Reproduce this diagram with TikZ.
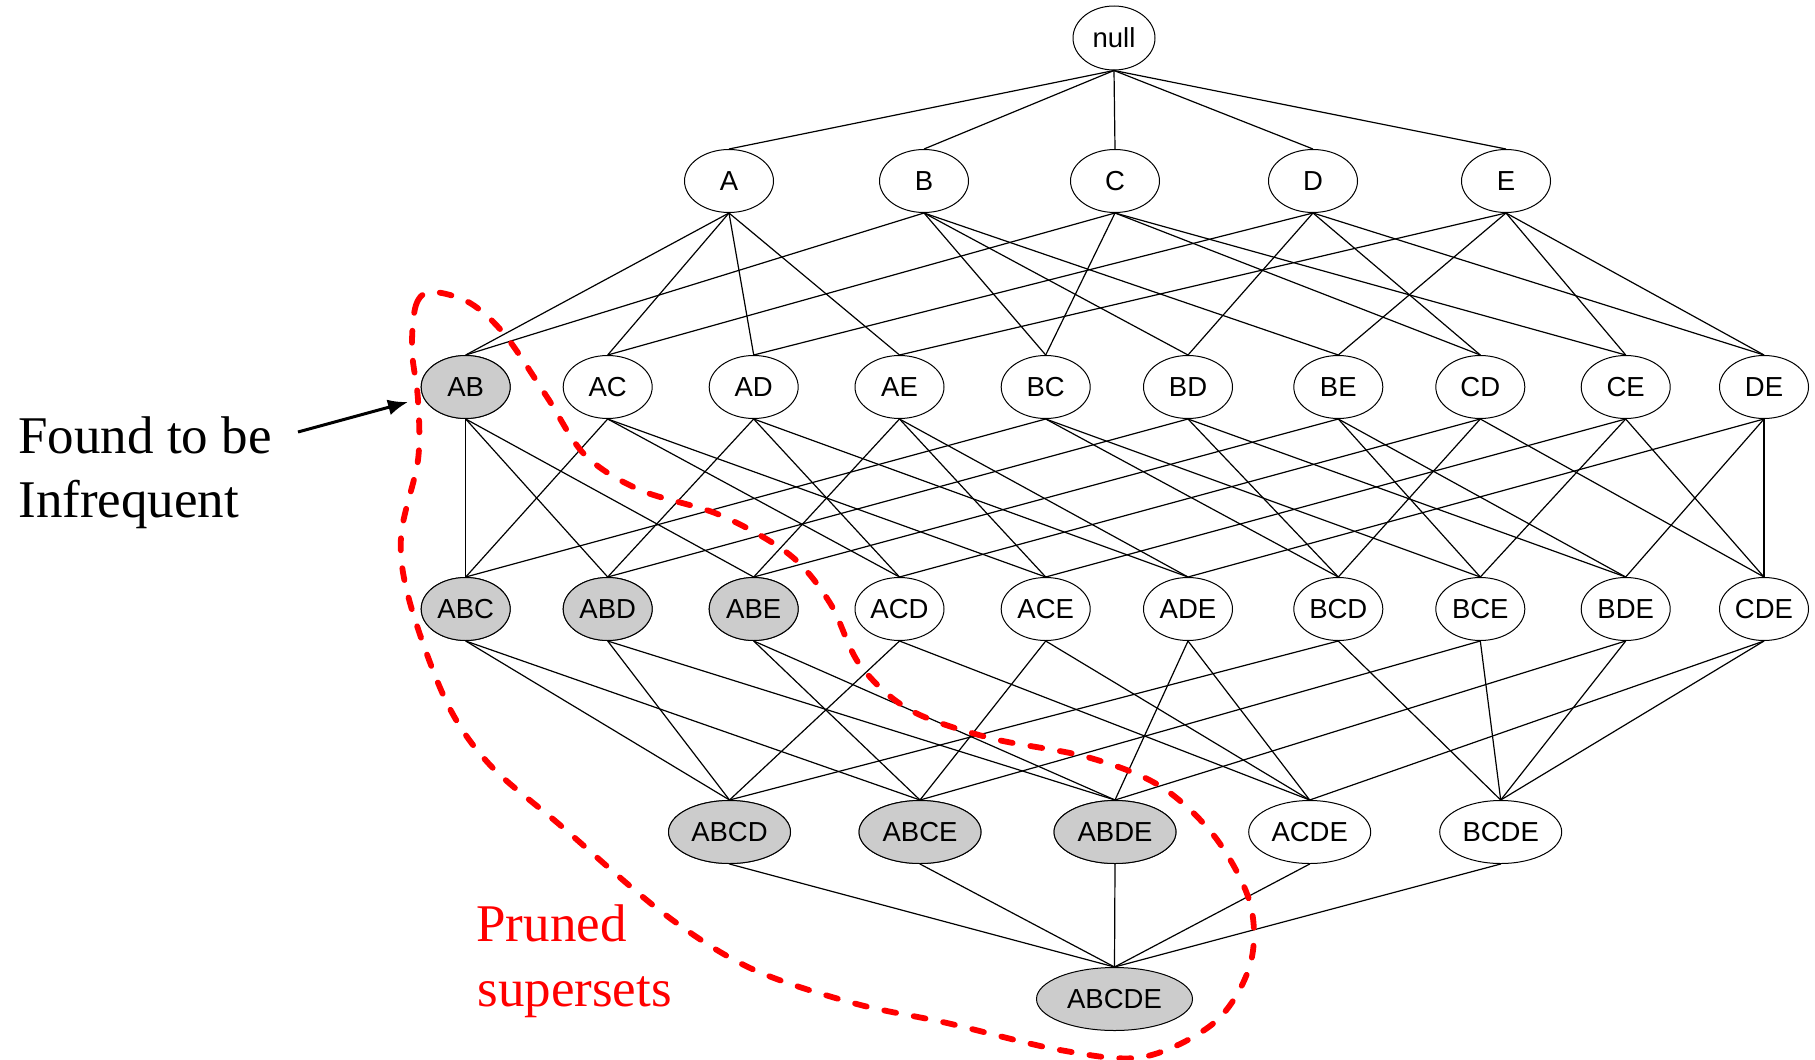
\documentclass[tikz,border=0pt]{standalone}
\usepackage{fontspec}
\setmainfont{Liberation Serif}
\newfontfamily\arialfont{Liberation Sans}
\usetikzlibrary{shapes.geometric,arrows.meta}
\definecolor{infgray}{RGB}{204,204,204}
\definecolor{prunered}{RGB}{255,0,0}
\tikzset{
  setnode/.style={ellipse, draw=black, line width=0.5pt, fill=white, inner sep=0pt,
    minimum width=44.5pt, minimum height=31.5pt, font=\arialfont\fontsize{13.75}{16}\selectfont},
  wide4/.style={minimum width=61pt},
  wide5/.style={minimum width=78pt},
  infreq/.style={fill=infgray},
  lattice/.style={line width=0.6pt, black},
  prune/.style={prunered, line width=2.9pt, dash pattern=on 6pt off 9pt, line cap=round},
  bigtext/.style={inner sep=0pt, anchor=base west, font=\fontsize{26.5}{32}\selectfont}
}
\begin{document}
\begin{tikzpicture}[x=0.5pt,y=-0.5pt]
\useasboundingbox (0,0) rectangle (1815,1060);
% level 0
\node[setnode, minimum width=41pt, minimum height=32pt] (null) at (1114,38) {null};
% level 1
\foreach \n/\x in {A/729, B/924, C/1115, D/1313, E/1506}
  \node[setnode] (\n) at (\x,181) {\n};
% level 2
\foreach \n/\x in {AB/465.7, AC/607.7, AD/753.7, AE/899.5, BC/1045.7, BD/1188, BE/1338.3, CD/1480.3, CE/1625.7, DE/1764}
  \node[setnode] (\n) at (\x,387) {\n};
\node[setnode, infreq] at (AB) {AB};
% level 3
\foreach \n/\x in {ABC/465.7, ABD/607.7, ABE/753.7, ACD/899.5, ACE/1045.7, ADE/1188, BCD/1338.3, BCE/1480.3, BDE/1625.7, CDE/1764}
  \node[setnode] (\n) at (\x,609) {\n};
\foreach \n in {ABC, ABD, ABE}
  \node[setnode, infreq] at (\n) {\n};
% level 4
\foreach \n/\x in {ABCD/729.5, ABCE/920, ABDE/1115, ACDE/1309.7, BCDE/1500.7}
  \node[setnode, wide4] (\n) at (\x,832) {\n};
\foreach \n in {ABCD, ABCE, ABDE}
  \node[setnode, wide4, infreq] at (\n) {\n};
% level 5
\node[setnode, wide5, infreq] (ABCDE) at (1114.5,999) {ABCDE};
% edges
\foreach \c in {A,B,C,D,E} \draw[lattice] (null.south) -- (\c.north);
\foreach \c/\ps in {AB/{A,B}, AC/{A,C}, AD/{A,D}, AE/{A,E}, BC/{B,C}, BD/{B,D}, BE/{B,E}, CD/{C,D}, CE/{C,E}, DE/{D,E},
  ABC/{AB,AC,BC}, ABD/{AB,AD,BD}, ABE/{AB,AE,BE}, ACD/{AC,AD,CD}, ACE/{AC,AE,CE}, ADE/{AD,AE,DE},
  BCD/{BC,BD,CD}, BCE/{BC,BE,CE}, BDE/{BD,BE,DE}, CDE/{CD,CE,DE},
  ABCD/{ABC,ABD,ACD,BCD}, ABCE/{ABC,ABE,ACE,BCE}, ABDE/{ABD,ABE,ADE,BDE}, ACDE/{ACD,ACE,ADE,CDE}, BCDE/{BCD,BCE,BDE,CDE},
  ABCDE/{ABCD,ABCE,ABDE,ACDE,BCDE}}
  \foreach \p in \ps \draw[lattice] (\p.south) -- (\c.north);
% pruned region
\draw[prune] plot[smooth cycle, tension=0.55] coordinates {
  (412,350) (416,305) (432,292) (470,303) (505,335) (547,397) (585,455) (640,490) (720,515)
  (790,555) (830,603) (860,665) (910,710) (990,738) (1087,757) (1160,786) (1215,837)
  (1250,903) (1250,965) (1215,1022) (1143,1057) (1060,1050) (947,1023) (853,1003)
  (750,968) (663,913) (560,825) (490,765) (447,703) (410,603) (401,537) (418,460) (418,400)};
% labels
\node[bigtext] (found) at (18,453) {Found to be};
\node[bigtext] (infr) at (18,517) {Infrequent};
\coordinate (arrs) at (298,432);
\coordinate (arrt) at (408,402);
\draw[line width=1.5pt, -{Latex[length=10pt,width=8pt]}] (arrs) -- (arrt);
\node[bigtext, text=prunered] (pruned) at (476,941) {Pruned};
\node[bigtext, text=prunered] (supersets) at (477,1006) {supersets};
\end{tikzpicture}
\end{document}
